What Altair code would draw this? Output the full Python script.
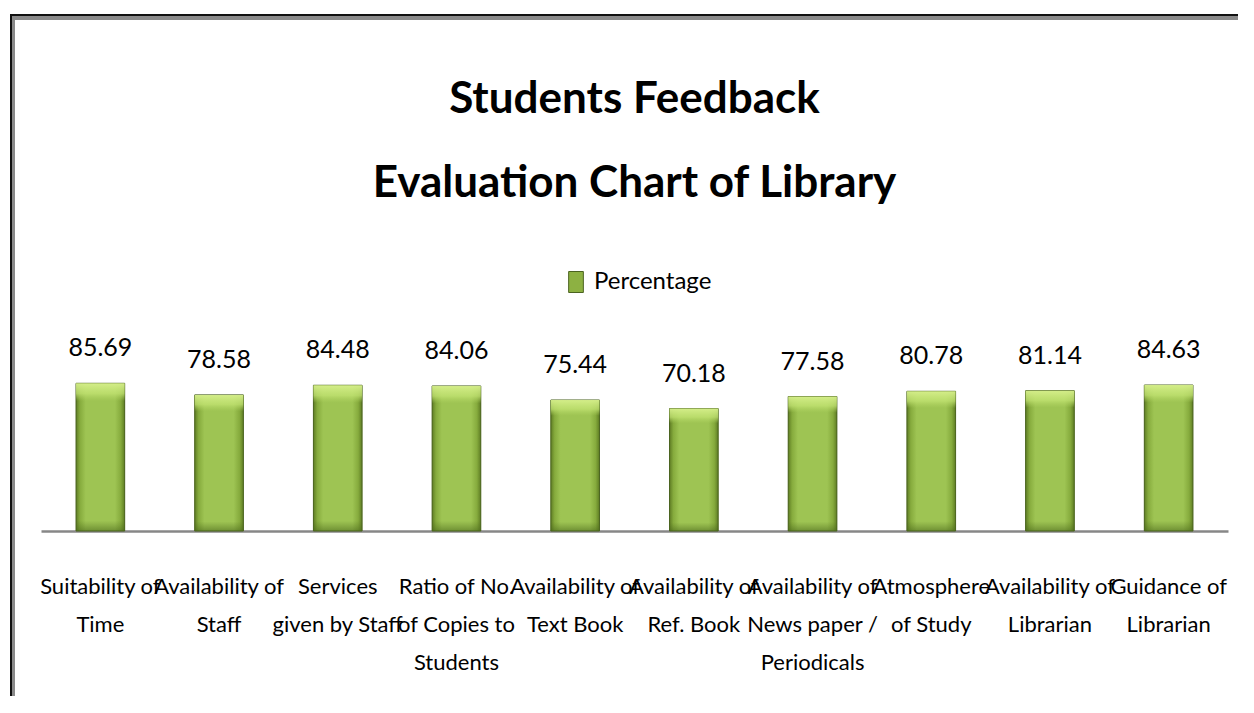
import altair as alt
import pandas as pd

categories = [
    "Suitability of|Time",
    "Availability of|Staff",
    "Services|given by Staff",
    "Ratio of No.|of Copies to|Students",
    "Availability of|Text Book",
    "Availability of|Ref. Book",
    "Availability of|News paper /|Periodicals",
    "Atmosphere|of Study",
    "Availability of|Librarian",
    "Guidance of|Librarian",
]
values = [85.69, 78.58, 84.48, 84.06, 75.44, 70.18, 77.58, 80.78, 81.14, 84.63]
series_name = "Percentage"

df = pd.DataFrame({"cat": categories, "val": values, "series": [series_name] * len(values)})

FONT = "Lato"

side_grad = {
    "gradient": "linear", "x1": 0, "y1": 0, "x2": 1, "y2": 0,
    "stops": [
        {"offset": 0.0, "color": "#5f7d24"},
        {"offset": 0.08, "color": "#86ab3d"},
        {"offset": 0.2, "color": "#9ec453"},
        {"offset": 0.8, "color": "#9ec453"},
        {"offset": 0.92, "color": "#86ab3d"},
        {"offset": 1.0, "color": "#5f7d24"},
    ],
}
top_grad = {
    "gradient": "linear", "x1": 0, "y1": 0, "x2": 0, "y2": 1,
    "stops": [
        {"offset": 0.0, "color": "rgba(215,240,140,0.95)"},
        {"offset": 0.07, "color": "rgba(195,228,115,0.75)"},
        {"offset": 0.12, "color": "rgba(180,215,100,0.0)"},
        {"offset": 0.93, "color": "rgba(80,110,30,0.0)"},
        {"offset": 1.0, "color": "rgba(70,100,25,0.55)"},
    ],
}

x_enc = alt.X(
    "cat:N",
    sort=None,
    title=None,
    scale=alt.Scale(paddingInner=0.59, paddingOuter=0.295),
    axis=alt.Axis(
        labelExpr="split(datum.label, '|')",
        labelAngle=0,
        labelFont=FONT,
        labelFontSize=22,
        labelLineHeight=38,
        labelColor="#000000",
        labelPadding=45,
        labelBaseline="top",
        labelOverlap=False,
        labelLimit=0,
        ticks=False,
        domainColor="#878787",
        domainWidth=2.5,
        grid=False,
    ),
)
x_plain = alt.X("cat:N", sort=None)
y_scale = alt.Scale(domain=[-5, 100], nice=False, zero=False)
y_enc = alt.Y("val:Q", scale=y_scale, axis=None)

# base bars carry the legend; they are covered by the shaded bars above
legend_bars = alt.Chart(df).mark_bar().encode(
    x=x_enc,
    y=y_enc,
    y2=alt.datum(-5),
    color=alt.Color(
        "series:N",
        scale=alt.Scale(range=["#8db142"]),
        legend=alt.Legend(
            title=None,
            orient="none",
            legendX=523,
            legendY=-90,
            padding=0,
            symbolType="M-0.7,-1H0.7V1H-0.7Z",
            symbolSize=441,
            symbolStrokeColor="#4b6320",
            symbolStrokeWidth=1,
            labelFont=FONT,
            labelFontSize=24,
            labelColor="#000000",
            labelOffset=6,
        ),
    ),
)

bars = alt.Chart(df).mark_bar(stroke="#4b6320", strokeWidth=1).encode(
    x=x_plain,
    y=y_enc,
    y2=alt.datum(-5),
    fill=alt.value(side_grad),
)

bevel = alt.Chart(df).mark_bar(strokeWidth=0).encode(
    x=x_plain,
    y=y_enc,
    y2=alt.datum(-5),
    fill=alt.value(top_grad),
)

labels = alt.Chart(df).mark_text(
    font=FONT, fontSize=25, color="#000000", baseline="alphabetic", dy=-27
).encode(
    x=x_plain,
    y=y_enc,
    text=alt.Text("val:Q", format=".2f"),
)

# picture frame (top and left border of the original image)
frame_top_dark = alt.Chart(df).mark_rule(color="#111111", strokeWidth=2).encode(
    x=alt.value(-31), x2=alt.value(1213), y=alt.value(-345)
)
frame_top_grey = alt.Chart(df).mark_rule(color="#8a8a8a", strokeWidth=4).encode(
    x=alt.value(-29), x2=alt.value(1213), y=alt.value(-342)
)
frame_left_dark = alt.Chart(df).mark_rule(color="#111111", strokeWidth=2).encode(
    x=alt.value(-30), y=alt.value(-346), y2=alt.value(353)
)
frame_left_grey = alt.Chart(df).mark_rule(color="#8a8a8a", strokeWidth=3).encode(
    x=alt.value(-27.5), y=alt.value(-343), y2=alt.value(353)
)

chart = (
    alt.layer(legend_bars, bars, bevel, labels,
              frame_top_dark, frame_top_grey, frame_left_dark, frame_left_grey)
    .properties(
        width=1187,
        height=171,
        autosize=alt.AutoSizeParams(type="none"),
        padding={"left": 33, "top": 352, "right": 10, "bottom": 165},
        background="white",
        title=alt.TitleParams(
            text=["Students Feedback", "Evaluation Chart of  Library"],
            font=FONT,
            fontSize=44,
            fontWeight="bold",
            lineHeight=84,
            color="#000000",
            anchor="middle",
            baseline="bottom",
            frame="group",
            offset=-237,
        ),
    )
    .configure_view(strokeWidth=0, stroke="transparent")
)

chart.save("out.html", embed_options={"renderer": "svg", "actions": False})
